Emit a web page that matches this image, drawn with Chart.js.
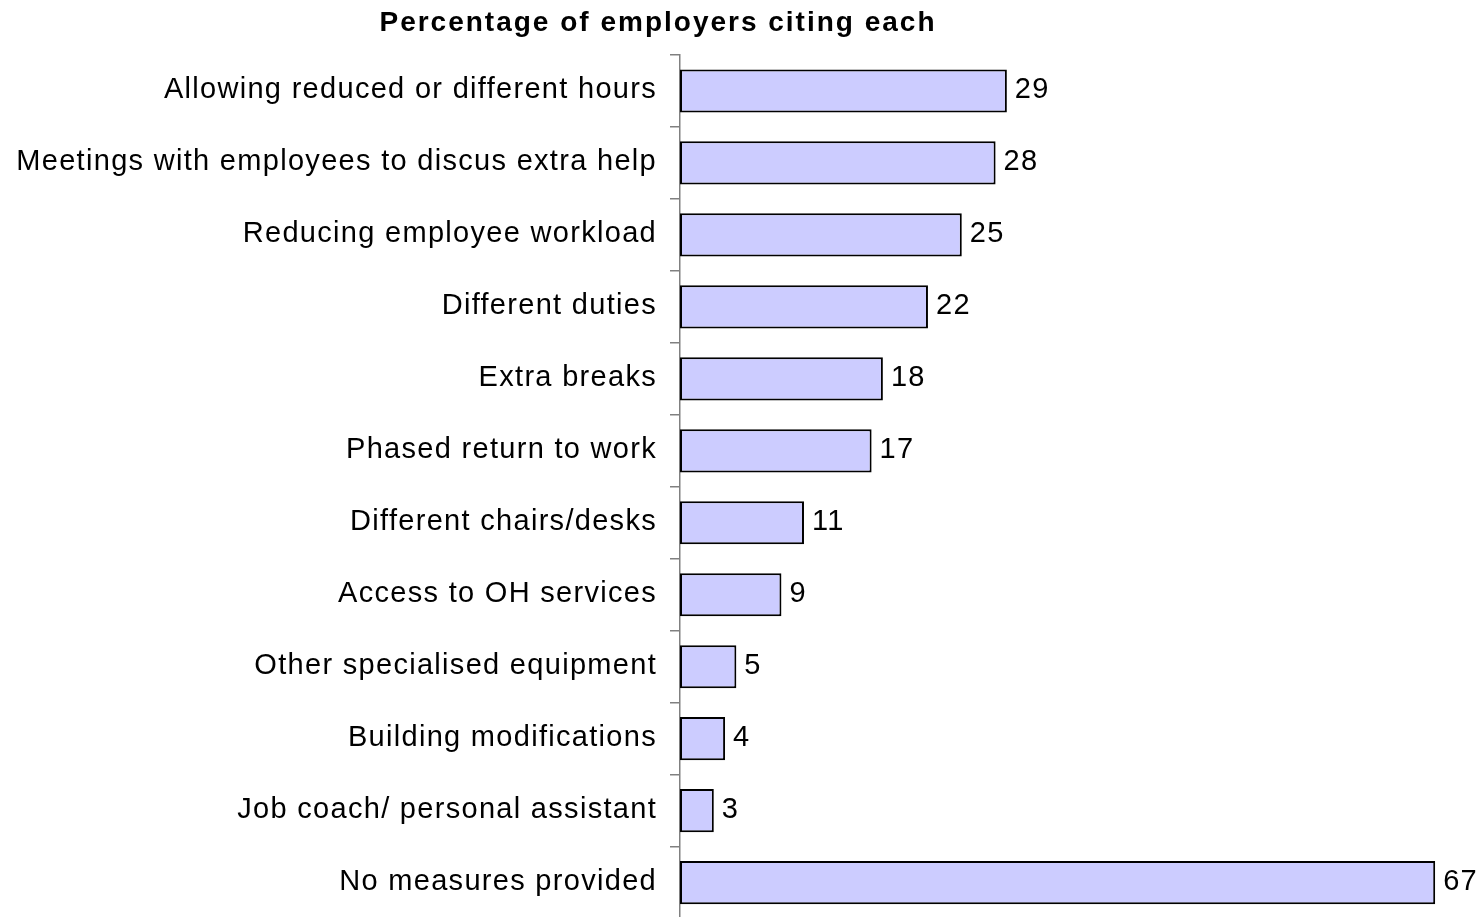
<!DOCTYPE html>
<html>
<head>
<meta charset="utf-8">
<script src="https://cdn.jsdelivr.net/npm/chart.js@4/dist/chart.umd.min.js"></script>
<style>
  html, body { margin: 0; padding: 0; background: #fff; overflow: hidden; }
  #wrap { width: 1483px; height: 949px; position: relative; }
</style>
</head>
<body>
<div id="wrap"><canvas id="chart"></canvas></div>
<script>
const titleText = 'Percentage of employers citing each';

const categories = [
  'Allowing reduced or different hours',
  'Meetings with employees to discus extra help',
  'Reducing employee workload',
  'Different duties',
  'Extra breaks',
  'Phased return to work',
  'Different chairs/desks',
  'Access to OH services',
  'Other specialised equipment',
  'Building modifications',
  'Job coach/ personal assistant',
  'No measures provided'
];
const values = [29, 28, 25, 22, 18, 17, 11, 9, 5, 4, 3, 67];

const FONT = 'Liberation Sans, Arial, sans-serif';

// old-style wide text spacing
const spacing = {
  id: 'spacing',
  beforeDraw(chart) { chart.ctx.letterSpacing = '1.3px'; }
};

// title + value labels at the end of each bar
const labels = {
  id: 'labels',
  afterDatasetsDraw(chart) {
    const ctx = chart.ctx;
    ctx.save();
    ctx.letterSpacing = '1.3px';
    ctx.fillStyle = '#000';
    ctx.font = '29px ' + FONT;
    ctx.textAlign = 'left';
    ctx.textBaseline = 'middle';
    chart.getDatasetMeta(0).data.forEach((bar, i) => {
      ctx.fillText(String(values[i]), bar.x + 8, bar.y - 1);
    });
    ctx.letterSpacing = '2px';
    ctx.font = 'bold 28px ' + FONT;
    ctx.textAlign = 'center';
    ctx.textBaseline = 'alphabetic';
    ctx.fillText(titleText, 658, 31);
    ctx.restore();
  }
};

new Chart(document.getElementById('chart'), {
  type: 'bar',
  data: {
    labels: categories,
    datasets: [{
      data: values,
      backgroundColor: '#CCCCFF',
      borderColor: '#000',
      borderWidth: 2,
      borderSkipped: false,
      barPercentage: 0.6,
      categoryPercentage: 1
    }]
  },
  options: {
    indexAxis: 'y',
    responsive: true,
    maintainAspectRatio: false,
    animation: false,
    layout: { padding: { top: 55, bottom: 6, left: 0, right: 14 } },
    plugins: {
      legend: { display: false },
      title: { display: false },
      tooltip: { enabled: false }
    },
    scales: {
      x: { display: false, min: 0, max: 70 },
      y: {
        afterFit: s => { s.width = 680; },
        border: { display: true, color: '#808080', width: 1.5 },
        grid: { drawOnChartArea: false, drawTicks: true, tickLength: 10, color: '#808080', lineWidth: 1.5, offset: true },
        ticks: {
          autoSkip: false,
          color: '#000',
          padding: 13,
          labelOffset: -1,
          font: { family: FONT, size: 29 }
        }
      }
    }
  },
  plugins: [spacing, labels]
});
</script>
</body>
</html>
